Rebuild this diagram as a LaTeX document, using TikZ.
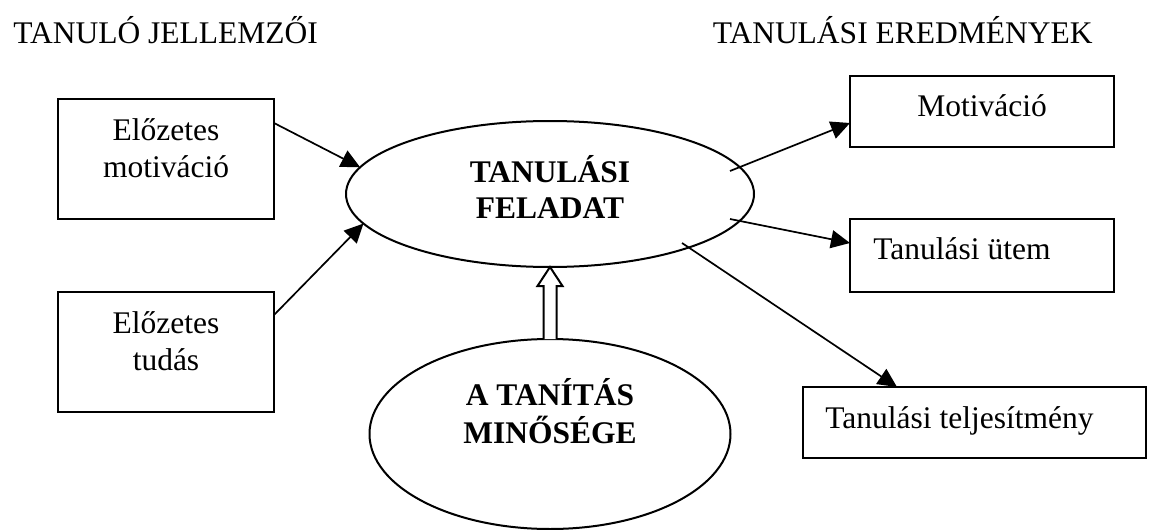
\documentclass[tikz,border=0pt]{standalone}
\usepackage{fontspec}
\setmainfont{Liberation Serif}
\usetikzlibrary{arrows.meta,shapes.geometric,calc}
\begin{document}
\begin{tikzpicture}[x=0.5pt,y=-0.5pt,
  box/.style={draw,line width=1pt,inner sep=0pt,outer sep=0pt},
  oval/.style={draw,ellipse,line width=1pt,inner sep=0pt,outer sep=0pt},
  txt/.style={inner sep=0pt,font=\fontsize{15.75pt}{18pt}\selectfont},
  btxt/.style={inner sep=0pt,font=\fontsize{15.75pt}{18pt}\selectfont\bfseries},
  conn/.style={line width=0.85pt,-{Triangle[length=9.5pt,width=9pt]}},
  hollow/.style={draw,line width=1pt,fill=white,line join=miter}]
\useasboundingbox (0,0) rectangle (1152,530);

% titles
\node[txt,anchor=base west] (h1) at (13,43) {TANULÓ JELLEMZŐI};
\node[txt,anchor=base east] (h2) at (1093,43) {TANULÁSI EREDMÉNYEK};

% left boxes
\node[box,minimum width=108pt,minimum height=60pt] (b1) at (166,159) {};
\node[txt,anchor=base] (b1a) at (166,140) {Előzetes};
\node[txt,anchor=base] (b1b) at (166,177) {motiváció};

\node[box,minimum width=108pt,minimum height=60pt] (b2) at (166,352) {};
\node[txt,anchor=base] (b2a) at (166,333) {Előzetes};
\node[txt,anchor=base] (b2b) at (166,370) {tudás};

% ellipses
\node[oval,minimum width=204pt,minimum height=73pt] (e1) at (550,194) {};
\node[btxt,anchor=base] (e1a) at (550,182) {TANULÁSI};
\node[btxt,anchor=base] (e1b) at (550,218) {FELADAT};

\node[oval,minimum width=180.5pt,minimum height=95pt] (e2) at (550,434) {};
\node[btxt,anchor=base] (e2a) at (550,405) {A TANÍTÁS};
\node[btxt,anchor=base] (e2b) at (550,443) {MINŐSÉGE};

% right boxes
\node[box,minimum width=132pt,minimum height=35.5pt] (m) at (982,111.5) {};
\node[txt,anchor=base] (ma) at (982,116) {Motiváció};

\node[box,minimum width=132pt,minimum height=36.5pt] (u) at (982,255.5) {};
\node[txt,anchor=base west] (ua) at (873,259) {Tanulási ütem};

\node[box,minimum width=171.5pt,minimum height=35.5pt] (t) at (974.5,422.5) {};
\node[txt,anchor=base west] (ta) at (825,428) {Tanulási teljesítmény};

% start points inside the task ellipse
\coordinate (s1) at ($(e1.center)+(180,-23)$);
\coordinate (s2) at ($(e1.center)+(180,25)$);
\coordinate (s3) at ($(e1.center)+(132,49)$);

% connectors
\draw[conn] ($(b1.north east)+(0,24)$) -- (e1.172);
\draw[conn] ($(b2.north east)+(0,23)$) -- (e1.189);
\draw[conn] (s1) -- ($(m.west)+(0,11.5)$);
\draw[conn] (s2) -- ($(u.west)+(0,-12.5)$);
\draw[conn] (s3) -- ($(t.north)+(-77.5,0)$);

% hollow block arrow
\draw[hollow] ($(e2.north)+(-6.5,0)$) -- ($(e1.south)+(-6.5,19)$)
  -- ($(e1.south)+(-12.5,19)$) -- (e1.south)
  -- ($(e1.south)+(12.5,19)$) -- ($(e1.south)+(6.5,19)$)
  -- ($(e2.north)+(6.5,0)$);
\end{tikzpicture}
\end{document}
